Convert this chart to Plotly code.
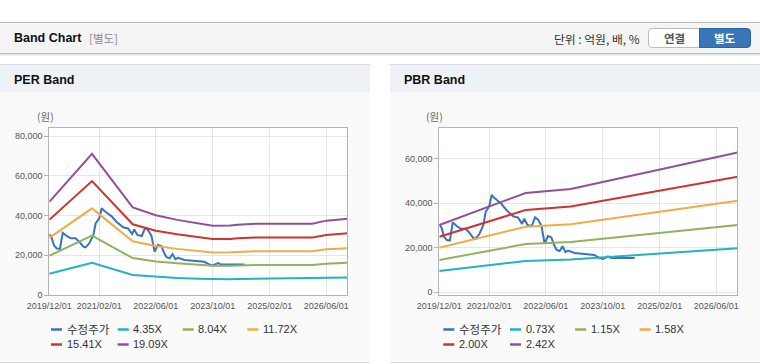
import plotly.graph_objects as go

W, H = 760, 364

# ---------------- data ----------------
price_dates = ["2019-12-01", "2019-12-20", "2020-01-10", "2020-02-03", "2020-03-01", "2020-03-25",
               "2020-04-28", "2020-06-03", "2020-07-13", "2020-08-13", "2020-09-18", "2020-10-07",
               "2020-11-07", "2020-12-13", "2021-01-01", "2021-02-01", "2021-02-22", "2021-03-13",
               "2021-04-18", "2021-05-16", "2021-06-28", "2021-08-25", "2021-10-06", "2021-11-10",
               "2021-11-28", "2021-12-25", "2022-02-01", "2022-02-28", "2022-03-25", "2022-04-25",
               "2022-05-07", "2022-05-22", "2022-06-19", "2022-07-19", "2022-08-10", "2022-09-01",
               "2022-09-28", "2022-10-22", "2022-11-16", "2022-12-07", "2023-02-03", "2023-04-28",
               "2023-07-22", "2023-09-04", "2023-10-04", "2023-11-16", "2023-12-13", "2024-03-01",
               "2024-05-01", "2024-07-01"]
price_values = [30500, 29000, 25000, 23400, 23200, 31300,
                29700, 28500, 28500, 26800, 24300, 24000,
                26000, 30200, 36000, 38600, 43700, 42500,
                40900, 39700, 36900, 34100, 33500, 30700,
                33000, 30200, 29700, 33600, 32700, 29700,
                26000, 21800, 25200, 24600, 21300, 19000,
                18500, 20600, 18000, 18700, 17600, 17100,
                16700, 15300, 14900, 16100, 15300, 15300,
                15300, 15400]

per_dates = ["2019-12-01", "2020-12-01", "2021-11-15", "2022-06-01", "2022-12-01", "2023-06-01",
             "2023-10-01", "2024-03-01", "2024-05-01", "2024-10-01", "2026-02-01", "2026-06-01",
             "2026-12-01"]
per_435 = [10680, 16180, 10050, 9135, 8610, 8220, 7940, 7960, 8050, 8160, 8180, 8530, 8750]
per_804 = [19740, 29910, 18570, 16880, 15920, 15200, 14670, 14710, 14870, 15080, 15120, 15760, 16180]
per_1172 = [28770, 43600, 27070, 24610, 23210, 22150, 21390, 21450, 21680, 21980, 22030, 22970, 23580]
per_1541 = [37830, 57330, 35600, 32360, 30510, 29120, 28120, 28200, 28510, 28890, 28970, 30200, 31010]
per_1909 = [46870, 71010, 44100, 40090, 37800, 36080, 34840, 34940, 35320, 35790, 35890, 37420, 38410]

pbr_dates = ["2019-12-01", "2021-12-10", "2023-01-01", "2026-12-01"]
pbr_073 = [9520, 14010, 14640, 19710]
pbr_115 = [14460, 21640, 22540, 30170]
pbr_158 = [19980, 29410, 30490, 41080]
pbr_200 = [24920, 36910, 38480, 51860]
pbr_242 = [30170, 44540, 46340, 62730]

per_names = ["4.35X", "8.04X", "11.72X", "15.41X", "19.09X"]
pbr_names = ["0.73X", "1.15X", "1.58X", "2.00X", "2.42X"]
price_name = "수정주가"

x_tick_vals = ["2019-12-01", "2021-02-01", "2022-06-01", "2023-10-01", "2025-02-01", "2026-06-01"]
x_tick_text = ["2019/12/01", "2021/02/01", "2022/06/01", "2023/10/01", "2025/02/01", "2026/06/01"]
per_y_ticks = [0, 20000, 40000, 60000, 80000]
pbr_y_ticks = [0, 20000, 40000, 60000]

# ---------------- styles ----------------
PRICE_COLOR = "#3b72c0"
BAND_COLORS = ["#22b2c2", "#8fb459", "#f2ac45", "#cc3530", "#934f99"]
FONT = "Liberation Sans, Arial, Noto Sans CJK KR, sans-serif"
KFONT = "Noto Sans CJK KR, Liberation Sans, sans-serif"


def fx(x):
    return x / W


def fy(y):
    return 1 - y / H


fig = go.Figure()

# PER chart traces
fig.add_trace(go.Scatter(x=price_dates, y=price_values, name=price_name, mode="lines",
                         line=dict(color=PRICE_COLOR, width=2), xaxis="x", yaxis="y",
                         showlegend=False))
for vals, nm, col in zip([per_435, per_804, per_1172, per_1541, per_1909], per_names, BAND_COLORS):
    fig.add_trace(go.Scatter(x=per_dates, y=vals, name=nm, mode="lines",
                             line=dict(color=col, width=2), xaxis="x", yaxis="y",
                             showlegend=False))

# PBR chart traces
fig.add_trace(go.Scatter(x=price_dates, y=price_values, name=price_name, mode="lines",
                         line=dict(color=PRICE_COLOR, width=2), xaxis="x2", yaxis="y2",
                         showlegend=False))
for vals, nm, col in zip([pbr_073, pbr_115, pbr_158, pbr_200, pbr_242], pbr_names, BAND_COLORS):
    fig.add_trace(go.Scatter(x=pbr_dates, y=vals, name=nm, mode="lines",
                             line=dict(color=col, width=2), xaxis="x2", yaxis="y2",
                             showlegend=False))

# ---------------- axes ----------------
PL_L, PL_R = 49.3, 347.3
PR_L, PR_R = 439.3, 737.3
P_TOP, P_BOT = 128.3, 295.0

xcommon = dict(type="date", range=["2019-12-01", "2026-11-28"], tickvals=x_tick_vals,
               ticktext=x_tick_text, showgrid=True, gridcolor="#e6e6e6", gridwidth=1,
               showline=True, linecolor="#b4b4b4", linewidth=1, mirror=True, ticks="",
               tickfont=dict(family=FONT, size=9, color="#555555"), zeroline=False,
               fixedrange=True, ticklabelstandoff=2, automargin=False)
ycommon = dict(showgrid=True, gridcolor="#e6e6e6", gridwidth=1, showline=True,
               linecolor="#b4b4b4", linewidth=1, mirror=True, ticks="outside", ticklen=4,
               tickcolor="#b4b4b4", tickfont=dict(family=FONT, size=9, color="#555555"),
               tickformat=",d", zeroline=False, fixedrange=True, automargin=False)

layout_axes = dict(
    xaxis=dict(xcommon, domain=[fx(PL_L), fx(PL_R)], anchor="y"),
    yaxis=dict(ycommon, domain=[fy(P_BOT), fy(P_TOP)], anchor="x", range=[0, 83875],
               tickvals=per_y_ticks),
    xaxis2=dict(xcommon, domain=[fx(PR_L), fx(PR_R)], anchor="y2"),
    yaxis2=dict(ycommon, domain=[fy(P_BOT), fy(P_TOP)], anchor="x2", range=[-1257, 73590],
                tickvals=pbr_y_ticks),
)

# ---------------- decoration shapes ----------------
shapes = []


def rect(x0, y0, x1, y1, fill, line=None, lw=0):
    shapes.append(dict(type="rect", xref="paper", yref="paper", x0=fx(x0), x1=fx(x1),
                       y0=fy(y1), y1=fy(y0), fillcolor=fill,
                       line=dict(color=line or fill, width=lw), layer="below"))


def hline(x0, x1, y, color, width=1, layer="below"):
    shapes.append(dict(type="line", xref="paper", yref="paper", x0=fx(x0), x1=fx(x1),
                       y0=fy(y), y1=fy(y), line=dict(color=color, width=width), layer=layer))


def rounded(x0, y0, x1, y1, r, fill, line, left=True, right=True):
    rl = r if left else 0
    rr = r if right else 0
    p = []
    p.append(f"M{fx(x0 + rl)},{fy(y0)}")
    p.append(f"L{fx(x1 - rr)},{fy(y0)}")
    if rr:
        p.append(f"Q{fx(x1)},{fy(y0)} {fx(x1)},{fy(y0 + rr)}")
    p.append(f"L{fx(x1)},{fy(y1 - rr)}")
    if rr:
        p.append(f"Q{fx(x1)},{fy(y1)} {fx(x1 - rr)},{fy(y1)}")
    p.append(f"L{fx(x0 + rl)},{fy(y1)}")
    if rl:
        p.append(f"Q{fx(x0)},{fy(y1)} {fx(x0)},{fy(y1 - rl)}")
    p.append(f"L{fx(x0)},{fy(y0 + rl)}")
    if rl:
        p.append(f"Q{fx(x0)},{fy(y0)} {fx(x0 + rl)},{fy(y0)}")
    p.append("Z")
    shapes.append(dict(type="path", xref="paper", yref="paper", path=" ".join(p),
                       fillcolor=fill, line=dict(color=line, width=1), layer="above"))


# header bar
rect(0, 22.5, 760, 53, "#f4f4f4")
hline(0, 760, 22.5, "#b9b9b9")
hline(0, 760, 53.5, "#bdbdbd")
hline(0, 760, 54.5, "#e2e2e2")
hline(0, 760, 55.5, "#f0f0f0")

# panels
for (a, b) in [(0, 370), (390, 760)]:
    rect(a, 64.5, b, 92.5, "#eef1f6")
    hline(a, b, 64.5, "#d9dce2")
    rect(a, 92.5, b, 362, "#fafafa")
    hline(a, b, 362.5, "#dcdcdc")

# plot area backgrounds
rect(PL_L, P_TOP, PL_R, P_BOT, "#ffffff")
rect(PR_L, P_TOP, PR_R, P_BOT, "#ffffff")

# buttons
rounded(648.5, 28.5, 699.5, 47.5, 3.5, "#ffffff", "#bcbcbc", left=True, right=False)
rounded(699.5, 28.5, 750.5, 47.5, 3.5, "#3a76b6", "#2d64a2", left=False, right=True)

# ---------------- annotations ----------------
ann = []


def text(x, y, s, size=11, color="#333333", bold=False, anchor="left", family=FONT):
    ann.append(dict(x=fx(x), y=fy(y), xref="paper", yref="paper", text=(f"<b>{s}</b>" if bold else s),
                    showarrow=False, xanchor=anchor, yanchor="middle",
                    font=dict(family=family, size=size, color=color)))


text(11.5, 38.5, "Band Chart", size=12.5, color="#111111", bold=True)
text(87, 38.5, "[별도]", size=11.5, color="#8c8c8c", family=KFONT)
text(641.5, 38.5, "단위 : 억원, 배, %", size=11.8, color="#333333", anchor="right", family=KFONT)
text(674, 38, "연결", size=11.5, color="#555555", bold=True, anchor="center", family=KFONT)
text(725, 38, "별도", size=11.5, color="#ffffff", bold=True, anchor="center", family=KFONT)
text(11.5, 79.5, "PER Band", size=12.5, color="#111111", bold=True)
text(401.5, 79.5, "PBR Band", size=12.5, color="#111111", bold=True)
text(45, 117, "(원)", size=10.5, color="#666666", anchor="center", family=KFONT)
text(435, 117, "(원)", size=10.5, color="#666666", anchor="center", family=KFONT)

# custom legends
legend_slots = [(51, 329.5), (117.7, 329.5), (182.7, 329.5), (247.3, 329.5), (51, 344.5), (117.7, 344.5)]
all_colors = [PRICE_COLOR] + BAND_COLORS
for offset, names in [(0, [price_name] + per_names), (392.3, [price_name] + pbr_names)]:
    for (lx, ly), nm, col in zip(legend_slots, names, all_colors):
        x0 = lx + offset
        hline(x0, x0 + 11, ly, col, width=2.5, layer="above")
        fam = KFONT if nm == price_name else FONT
        text(x0 + 13.5, ly - 0.5, nm, size=11 if nm != price_name else 11.5, color="#333333",
             family=fam)

fig.update_layout(
    template="none",
    width=W, height=H, margin=dict(l=0, r=0, t=0, b=0, pad=0, autoexpand=False),
    paper_bgcolor="#ffffff", plot_bgcolor="rgba(0,0,0,0)",
    showlegend=False, shapes=shapes, annotations=ann,
    **layout_axes,
)

fig.write_html("out.html", config={"displayModeBar": False, "staticPlot": True},
               post_script="document.body.style.margin='0';document.body.style.padding='0';"
                           "document.body.style.overflow='hidden';")
